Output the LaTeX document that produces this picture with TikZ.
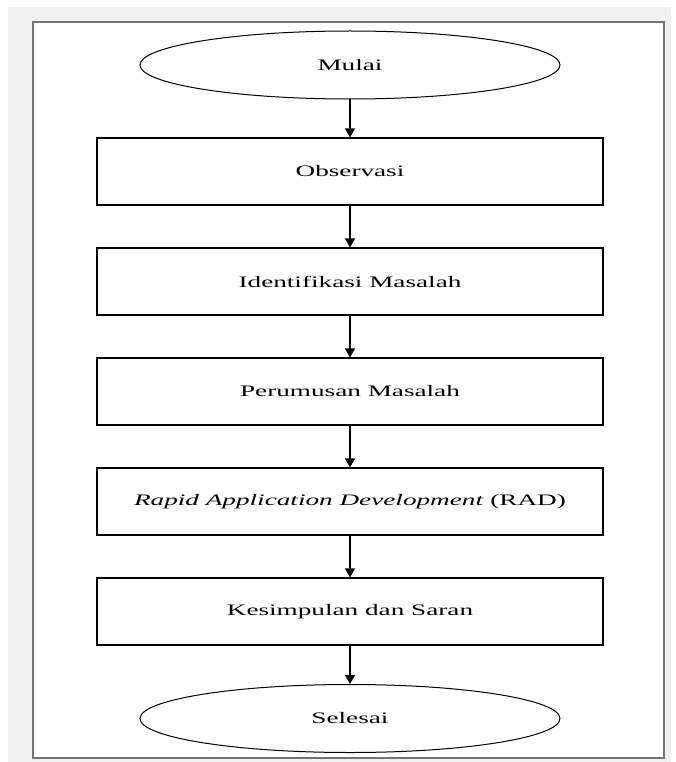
\documentclass[tikz,border=0pt]{standalone}
\usepackage{fontspec}
\setmainfont{Liberation Serif}
\usetikzlibrary{arrows.meta, shapes.geometric, calc}
\tikzset{
    my-terminal/.style={
        ellipse, draw, line width=1pt, minimum width=420pt, minimum height=68pt, inner sep=0pt,
        font=\fontsize{16}{18}\selectfont
    },
    my-process/.style={
        rectangle, draw, line width=1.2pt, minimum width=506pt, minimum height=67pt, inner sep=0pt,
        font=\fontsize{16}{18}\selectfont
    },
    my-arrow/.style={
        -{Triangle[length=9pt, width=10pt]}, line width=1.3pt
    },
}
\newcommand{\widetext}[1]{\scalebox{1.7}[1]{#1}}

\begin{document}
\begin{tikzpicture}[x=1pt, y=-1pt]

        % PAGE AND FRAME --------------------------------------------------------------------------------
        \useasboundingbox (0, 0) rectangle (675, 762);
        \fill[white] (0, 0) rectangle (675, 762);
        \fill[black!6] (8, 7) rectangle (671, 762);
        \draw[fill=white, draw=black!55, line width=1.5pt] (33, 22) rectangle (664, 758);

        % START AND END
        \node[my-terminal] (MULAI)   at (350, 65)    {\widetext{Mulai}};
        \node[my-terminal] (SELESAI) at (350, 718.5) {\widetext{Selesai}};

        % PROCESS STEPS
        \node[my-process] (OBSERVASI)   at (350, 171.5) {\widetext{Observasi}};
        \node[my-process] (IDENTIFIKASI) at ($(OBSERVASI)    + (0, 110)$) {\widetext{Identifikasi Masalah}};
        \node[my-process] (PERUMUSAN)   at ($(IDENTIFIKASI) + (0, 110)$) {\widetext{Perumusan Masalah}};
        \node[my-process] (RAD)         at ($(PERUMUSAN)    + (0, 110)$) {\widetext{\textit{Rapid Application Development} (RAD)}};
        \node[my-process] (KESIMPULAN)  at ($(RAD)          + (0, 110)$) {\widetext{Kesimpulan dan Saran}};

        % FLOW ARROWS
        \draw[my-arrow] (MULAI)        -- (OBSERVASI);
        \draw[my-arrow] (OBSERVASI)    -- (IDENTIFIKASI);
        \draw[my-arrow] (IDENTIFIKASI) -- (PERUMUSAN);
        \draw[my-arrow] (PERUMUSAN)    -- (RAD);
        \draw[my-arrow] (RAD)          -- (KESIMPULAN);
        \draw[my-arrow] (KESIMPULAN)   -- (SELESAI);

    \end{tikzpicture}
\end{document}
